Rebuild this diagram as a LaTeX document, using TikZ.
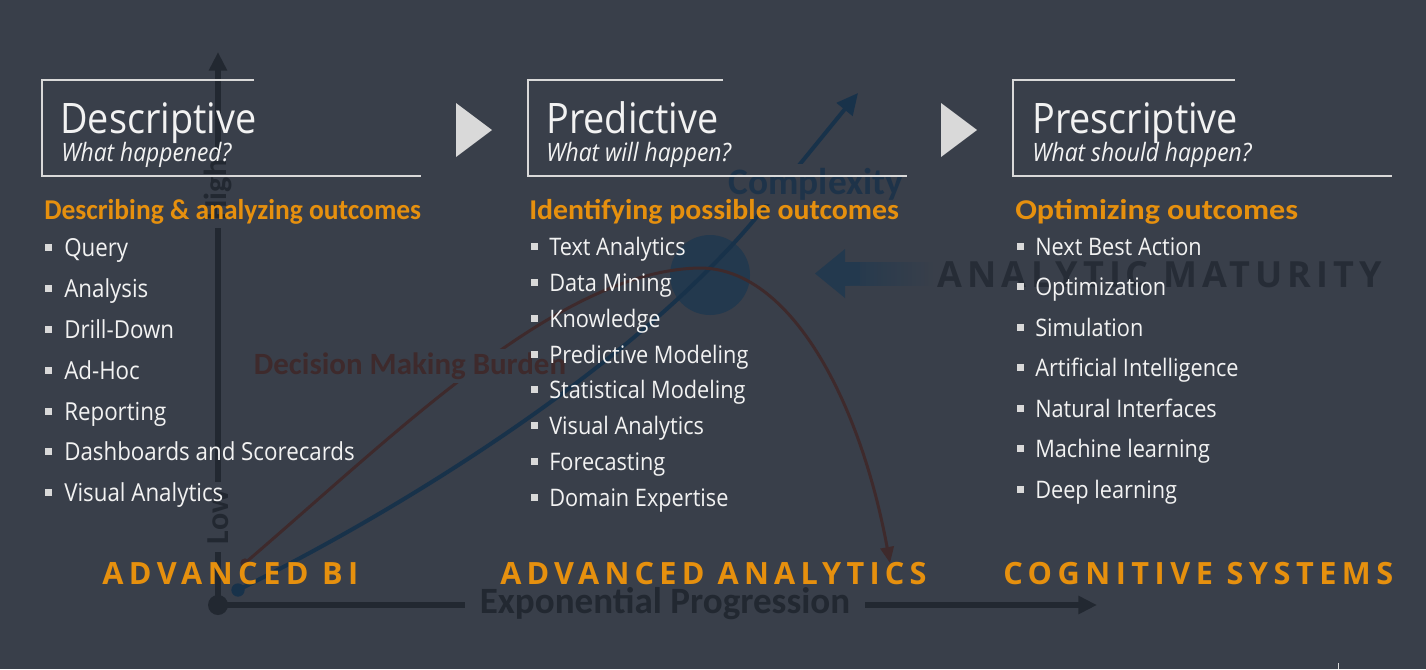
\documentclass[tikz,border=0pt]{standalone}
\usepackage{fontspec}
\setmainfont{Open Sans}
\newfontfamily\titlefont[FakeStretch=0.9]{Open Sans}
\newfontfamily\calfont{Carlito}
\newfontfamily\hfonta[FakeStretch=0.96]{Carlito}
\newfontfamily\hfontb[FakeStretch=1.04]{Carlito}
\newfontfamily\hfontc[FakeStretch=1.12]{Carlito}
\newfontfamily\spacedfont[LetterSpace=18]{Open Sans}
\newfontfamily\stagefontb[LetterSpace=17]{Open Sans}
\newfontfamily\matfont[LetterSpace=14]{Open Sans}
\usetikzlibrary{arrows.meta}
\definecolor{bg}{RGB}{57,63,74}
\definecolor{axisc}{RGB}{34,40,49}
\definecolor{boxc}{RGB}{217,217,217}
\definecolor{orangec}{RGB}{230,144,14}
\definecolor{txtc}{RGB}{242,242,242}
\definecolor{cplx}{RGB}{30,51,73}
\definecolor{bluec}{RGB}{24,50,74}
\definecolor{brownc}{RGB}{62,42,44}
\definecolor{circc}{RGB}{35,57,78}
\definecolor{matc}{RGB}{38,44,54}
\tikzset{
  boxline/.style={draw=boxc, line width=1.5pt},
  tri/.style={fill=boxc},
  title/.style={anchor=base west, inner sep=0pt, text=txtc, font=\titlefont\fontsize{31.5}{36}\selectfont},
  subtitle/.style={anchor=base west, inner sep=0pt, text=txtc, font=\titlefont\itshape\fontsize{19}{22}\selectfont},
  heading/.style={anchor=base west, inner sep=0pt, text=orangec},
  itema/.style={anchor=base west, inner sep=0pt, text=txtc, font=\titlefont\fontsize{18.6}{22}\selectfont},
  itemb/.style={anchor=base west, inner sep=0pt, text=txtc, font=\titlefont\fontsize{18.1}{22}\selectfont},
  bul/.style={fill=boxc},
  stage/.style={anchor=base west, inner sep=0pt, text=orangec, font=\spacedfont\bfseries\fontsize{23}{26}\selectfont},
  axisline/.style={draw=axisc, line width=4.5pt},
  axislbl/.style={text=axisc, font=\calfont\bfseries\fontsize{24}{26}\selectfont, fill=bg},
}
\begin{document}
\begin{tikzpicture}[x=0.75pt,y=-0.75pt]
\useasboundingbox (0,0) rectangle (1426,669);
\fill[bg] (0,0) rectangle (1426,669);
% blue circle
\fill[circc] (710,275) circle (30pt);
% analytic maturity arrow
\shade[left color=circc, right color=bg] (842,262) rectangle (935,285);
\fill[circc] (815,273.5) -- (845,249) -- (845,298) -- cycle;
\fill[circc] (844,262) rectangle (860,285);
\node[anchor=base west, inner sep=0pt, text=matc, font=\matfont\bfseries\fontsize{27}{30}\selectfont] (mat) at (937,287) {ANALYTIC MATURITY};
% blue complexity curve
\coordinate (bstart) at (238,590);
\coordinate (bend) at (858,93);
\draw[bluec, line width=3pt, -{Triangle[length=16pt,width=15pt]}] (bstart) .. controls (420,500) and (642,357) .. (760,213) -- (bend);
\fill[bluec] (bstart) circle (5pt);
\node[text=cplx, font=\calfont\bfseries\fontsize{28}{30}\selectfont, fill=bg, inner xsep=2pt, inner ysep=3pt] (cplxlbl) at (816,184) {Complexity};
% brown decision curve
\coordinate (rstart) at (245,563);
\coordinate (rend) at (890,563);
\draw[brownc, line width=2.25pt, -{Triangle[length=12pt,width=10pt]}] (rstart) .. controls (400,430) and (560,270) .. (700,268) .. controls (790,268) and (860,400) .. (rend);
\fill[brownc] (rstart) circle (3.5pt);
\node[text=brownc, font=\calfont\bfseries\fontsize{23.2}{25}\selectfont, fill=bg, inner sep=3pt] (declbl) at (410,366) {Decision Making Burden};
% axes
\coordinate (origin) at (218,605);
\coordinate (ytip) at (218,52);
\coordinate (xtip) at (1097,605);
\draw[axisline, -{Triangle[length=14pt,width=13pt]}] (origin) -- (ytip);
\draw[axisline, -{Triangle[length=14pt,width=13pt]}] (origin) -- (xtip);
\fill[axisc] (origin) circle (7.5pt);
\node[axislbl, rotate=90, inner xsep=6pt, inner ysep=1pt] (high) at (218,190) {High};
\node[axislbl, rotate=90, inner xsep=6pt, inner ysep=1pt] (low) at (218,517) {Low};
\node[axislbl, font=\calfont\bfseries\fontsize{27.8}{30}\selectfont, inner xsep=11pt, inner ysep=2pt] (expo) at (665,604) {Exponential Progression};
% title boxes
\draw[boxline] (254,80) -- (42,80) -- (42,176) -- (421,176);
\draw[boxline] (723,80) -- (528,80) -- (528,176) -- (907,176);
\draw[boxline] (1235,80) -- (1013,80) -- (1013,176) -- (1392,176);
\fill[tri] (456,103) -- (492,130) -- (456,157) -- cycle;
\fill[tri] (941,103) -- (977,130) -- (941,157) -- cycle;
% titles
\node[title] (t1) at (60,133) {Descriptive};
\node[subtitle] (s1) at (61,161) {What happened?};
\node[title] (t2) at (546,133) {Predictive};
\node[subtitle] (s2) at (546,161) {What will happen?};
\node[title] (t3) at (1032,133) {Prescriptive};
\node[subtitle] (s3) at (1032,161) {What should happen?};
% headings
\node[heading, font=\hfonta\bfseries\fontsize{21.5}{24}\selectfont] (h1) at (44,219) {Describing \& analyzing outcomes};
\node[heading, font=\hfontb\bfseries\fontsize{21.5}{24}\selectfont] (h2) at (529,219) {Identifying possible outcomes};
\node[heading, font=\hfontc\bfseries\fontsize{21.5}{24}\selectfont] (h3) at (1015,219) {Optimizing outcomes};
% lists
\foreach \y/\t [count=\i] in {248/Query,289/Analysis,330/Drill-Down,371/Ad-Hoc,412/Reporting,452/Dashboards and Scorecards,493/Visual Analytics}{
  \fill[bul] (44.5,\y-4.5) rectangle +(7,7);
  \node[itema] (a\i) at (64,\y+8.5) {\t};
}
\foreach \y/\t [count=\i] in {247/Text Analytics,283/Data Mining,319/Knowledge,355/Predictive Modeling,390/Statistical Modeling,426/Visual Analytics,462/Forecasting,498/Domain Expertise}{
  \fill[bul] (531,\y-4.5) rectangle +(7,7);
  \node[itemb] (b\i) at (549,\y+8.5) {\t};
}
\foreach \y/\t [count=\i] in {247/Next Best Action,287/Optimization,328/Simulation,368/Artificial Intelligence,409/Natural Interfaces,449/Machine learning,490/Deep learning}{
  \fill[bul] (1016.5,\y-4.5) rectangle +(7,7);
  \node[itemb] (c\i) at (1035,\y+8.5) {\t};
}
% stage labels
\node[stage] (st1) at (102,584) {ADVANCED BI};
\node[stage, font=\stagefontb\bfseries\fontsize{23}{26}\selectfont] (st2) at (500,584) {ADVANCED ANALYTICS};
\node[stage] (st3) at (1003,584) {COGNITIVE SYSTEMS};
\draw[boxc, line width=0.75pt] (1338,663) -- (1338,669);
\end{tikzpicture}
\end{document}
